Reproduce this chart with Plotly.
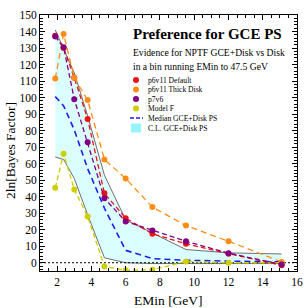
import plotly.graph_objects as go

emin = [1.89, 2.38, 3.0, 3.78, 4.76, 6.0, 7.56, 9.52, 12.0, 15.1]
p6v11_default = [137.5, 130, 112, 87, 42, 27, 17.5, 11.5, 5.5, -1.5]
p6v11_thick = [111.5, 138.5, 112, 98.5, 62.5, 51, 33.7, 22.5, 13, 0.5]
p7v6 = [137, 130.5, 99, 73, 39, 25, 19.5, 13, 5.8, -1]
model_f = [45.4, 66, 44.4, 28, -2.2, -4.6, -4.3, 0.8, 0, 0]
median_ps = [100.6, 95, 80.5, 57, 33, 7.5, 2.5, 1.5, 1, 0.5]
cl_upper = [141, 130, 115, 89, 53, 26, 18, 8, 6, 5.3]
cl_lower = [64, 62.5, 51, 29, 3, 0, -0.5, -0.5, -0.5, -0.5]

legend_names = ["p6v11 Default", "p6v11 Thick Disk", "p7v6", "Model F",
                "Median GCE+Disk PS", "C.L. GCE+Disk PS"]

RED = "rgb(235,20,20)"
ORANGE = "rgb(255,140,25)"
PURPLE = "rgb(128,0,128)"
YELLOW = "rgb(205,205,0)"
BLUE = "rgb(30,30,235)"
GRAY = "rgb(110,110,110)"
BAND = "rgba(195,255,255,0.6)"
BAND_LEG = "rgb(150,245,250)"
FONT = "Liberation Serif, DejaVu Serif, serif"

fig = go.Figure()
# band
fig.add_trace(go.Scatter(x=emin, y=cl_lower, mode="lines",
                         line=dict(color=GRAY, width=1), showlegend=False))
fig.add_trace(go.Scatter(x=emin, y=cl_upper, mode="lines", fill="tonexty",
                         fillcolor=BAND, line=dict(color=GRAY, width=1),
                         showlegend=False))
# zero line
fig.add_trace(go.Scatter(x=[1, 16], y=[0, 0], mode="lines",
                         line=dict(color="black", width=1, dash="2px,2px"),
                         showlegend=False))
# median
fig.add_trace(go.Scatter(x=emin, y=median_ps, mode="lines",
                         line=dict(color=BLUE, width=1.6, dash="6px,4px"),
                         showlegend=False))
for ys, c, d in [(model_f, YELLOW, "5px,3px"), (p6v11_default, RED, "5px,3px"),
                 (p6v11_thick, ORANGE, "6px,4px"), (p7v6, PURPLE, "5px,3px")]:
    fig.add_trace(go.Scatter(x=emin, y=ys, mode="lines+markers",
                             line=dict(color=c, width=1.3, dash=d),
                             marker=dict(color=c, size=6),
                             showlegend=False))

def px(x):
    return (x - 40) / 257.0

def py(y):
    return (271 - y) / 256.0

ann = [
    dict(x=px(131), y=py(34), text="<b>Preference for GCE PS</b>",
         font=dict(size=15, family=FONT, color="black")),
    dict(x=px(131), y=py(52), text="Evidence for NPTF GCE+Disk vs Disk",
         font=dict(size=9.6, family=FONT, color="black")),
    dict(x=px(131), y=py(66.5), text="in a bin running EMin to 47.5 GeV",
         font=dict(size=9.6, family=FONT, color="black")),
]
rows = [80, 89.5, 99, 108.5, 118, 128]
for name, ry in zip(legend_names, rows):
    ann.append(dict(x=px(146), y=py(ry), text=name,
                    font=dict(size=7.6, family=FONT, color="black")))
for a in ann:
    a.update(xanchor="left")
ann.append(dict(x=px(168), y=py(300), text="EMin [GeV]", xanchor="center",
                font=dict(size=13.5, family=FONT, color="black")))
ann.append(dict(x=px(10), y=py(151), text="2ln[Bayes Factor]", xanchor="center",
                textangle=-90, font=dict(size=13.5, family=FONT, color="black")))
for a in ann:
    a.update(xref="paper", yref="paper", yanchor="middle", showarrow=False)

shapes = []
for c, ry in zip([RED, ORANGE, PURPLE, YELLOW], rows[:4]):
    shapes.append(dict(type="circle", xref="paper", yref="paper",
                       x0=px(133), x1=px(139), y0=py(ry + 3), y1=py(ry - 3),
                       fillcolor=c, line=dict(width=0)))
shapes.append(dict(type="line", xref="paper", yref="paper",
                   x0=px(130), x1=px(143), y0=py(rows[4]), y1=py(rows[4]),
                   line=dict(color=BLUE, width=1.6, dash="4px,2px")))
shapes.append(dict(type="rect", xref="paper", yref="paper",
                   x0=px(131), x1=px(141), y0=py(rows[5] + 4.5), y1=py(rows[5] - 4.5),
                   fillcolor=BAND_LEG, line=dict(width=0)))

axis_common = dict(showline=True, linecolor="black", linewidth=1, mirror="allticks",
                   ticks="inside", tickcolor="black", ticklen=5, showgrid=False,
                   zeroline=False, automargin=False,
                   tickfont=dict(size=11.5, family=FONT, color="black"))

fig.update_layout(
    width=304, height=308,
    margin=dict(l=40, r=7, t=15, b=37),
    paper_bgcolor="white", plot_bgcolor="white",
    showlegend=False,
    annotations=ann, shapes=shapes,
    xaxis=dict(range=[1, 16], dtick=2, tick0=0,
               minor=dict(dtick=0.5, ticks="inside", ticklen=3, tickcolor="black"),
               **axis_common),
    yaxis=dict(range=[-5, 150], dtick=10, tick0=0,
               minor=dict(dtick=2, ticks="inside", ticklen=3, tickcolor="black"),
               **axis_common),
)

fig.write_html("out.html", config={"displayModeBar": False},
               post_script="document.body.style.margin='0px';document.body.style.overflow='hidden';")
